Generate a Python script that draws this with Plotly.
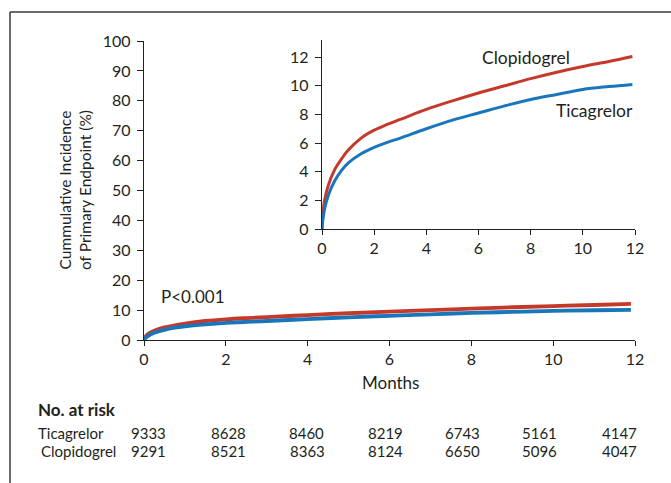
import plotly.graph_objects as go

W, H = 671, 483

months = [0, 0.03, 0.1, 0.25, 0.5, 0.75, 1, 1.5, 2, 2.5, 3, 4, 5, 6, 7, 8, 9, 10, 11, 11.9]
clopidogrel = [0, 1.0, 2.0, 3.1, 4.2, 4.9, 5.5, 6.35, 6.9, 7.3, 7.65, 8.35, 8.95, 9.5, 10.0, 10.5, 10.95, 11.35, 11.7, 12.05]
ticagrelor = [0, 0.6, 1.4, 2.4, 3.4, 4.1, 4.6, 5.25, 5.7, 6.05, 6.35, 7.0, 7.6, 8.1, 8.6, 9.05, 9.4, 9.75, 9.95, 10.1]

main_xticks = [0, 2, 4, 6, 8, 10, 12]
main_yticks = [0, 10, 20, 30, 40, 50, 60, 70, 80, 90, 100]
inset_yticks = [0, 2, 4, 6, 8, 10, 12]

risk_groups = ["Ticagrelor", "Clopidogrel"]
risk_ticagrelor = [9333, 8628, 8460, 8219, 6743, 5161, 4147]
risk_clopidogrel = [9291, 8521, 8363, 8124, 6650, 5096, 4047]

RED = "#c5392b"
BLUE = "#1a76bb"
TXT = "#231f20"
FONT = "Lato"

def px(x):
    return x / W

def py(y):
    return 1 - y / H

fig = go.Figure()

# main plot
fig.add_trace(go.Scatter(x=months, y=clopidogrel, mode="lines", line=dict(color=RED, width=3.8, shape="spline"),
                         xaxis="x", yaxis="y", showlegend=False, hoverinfo="skip"))
fig.add_trace(go.Scatter(x=months, y=ticagrelor, mode="lines", line=dict(color=BLUE, width=3.8, shape="spline"),
                         xaxis="x", yaxis="y", showlegend=False, hoverinfo="skip"))
# inset
fig.add_trace(go.Scatter(x=months, y=clopidogrel, mode="lines", line=dict(color=RED, width=3, shape="spline"),
                         xaxis="x2", yaxis="y2", showlegend=False, hoverinfo="skip"))
fig.add_trace(go.Scatter(x=months, y=ticagrelor, mode="lines", line=dict(color=BLUE, width=3, shape="spline"),
                         xaxis="x2", yaxis="y2", showlegend=False, hoverinfo="skip"))

axcommon = dict(showgrid=False, zeroline=False, showline=True, linecolor=TXT, linewidth=1.3,
                ticks="outside", tickwidth=1.2, tickcolor=TXT, automargin=False,
                tickfont=dict(family=FONT, size=16, color=TXT))
xax = dict(ticklen=5, ticklabelstandoff=0, **axcommon)
yax = dict(ticklen=6, ticklabelstandoff=3, **axcommon)

fig.update_layout(
    template="none",
    width=W, height=H, margin=dict(l=0, r=0, t=0, b=0, pad=0, autoexpand=False), autosize=False,
    paper_bgcolor="white", plot_bgcolor="rgba(0,0,0,0)",
    font=dict(family=FONT, color=TXT),
    xaxis=dict(domain=[px(144), px(635)], range=[0, 12], tickvals=main_xticks, anchor="y", **xax),
    yaxis=dict(domain=[py(340), py(41)], range=[0, 100], tickvals=main_yticks, anchor="x", **yax),
    xaxis2=dict(domain=[px(322), px(635)], range=[0, 12], tickvals=main_xticks, anchor="y2", **xax),
    yaxis2=dict(domain=[py(229), py(40)], range=[0, 13.2], tickvals=inset_yticks, anchor="x2", **yax),
)

ann = []
ann.append(dict(text="Cummulative Incidence<br>of Primary Endpoint (%)", x=px(75), y=py(190), xref="paper", yref="paper",
                textangle=-90, showarrow=False, font=dict(size=15.5, family=FONT, color=TXT), xanchor="center", yanchor="middle"))
ann.append(dict(text="Months", x=px(390), y=py(382), xref="paper", yref="paper", showarrow=False,
                font=dict(size=17, family=FONT, color=TXT), xanchor="center", yanchor="middle"))
ann.append(dict(text="P<0.001", x=px(159), y=py(296), xref="paper", yref="paper", showarrow=False,
                font=dict(size=17, family=FONT, color=TXT), xanchor="left", yanchor="middle"))
ann.append(dict(text="Clopidogrel", x=px(526), y=py(57), xref="paper", yref="paper", showarrow=False,
                font=dict(size=17.5, family=FONT, color=TXT), xanchor="center", yanchor="middle"))
ann.append(dict(text="Ticagrelor", x=px(594), y=py(110), xref="paper", yref="paper", showarrow=False,
                font=dict(size=17.5, family=FONT, color=TXT), xanchor="center", yanchor="middle"))
ann.append(dict(text="<b>No. at risk</b>", x=px(36), y=py(409), xref="paper", yref="paper", showarrow=False,
                font=dict(size=17, family=FONT, color=TXT), xanchor="left", yanchor="middle"))
ann.append(dict(text=risk_groups[0], x=px(36), y=py(433), xref="paper", yref="paper", showarrow=False,
                font=dict(size=15, family=FONT, color=TXT), xanchor="left", yanchor="middle"))
ann.append(dict(text=risk_groups[1], x=px(39), y=py(451), xref="paper", yref="paper", showarrow=False,
                font=dict(size=15, family=FONT, color=TXT), xanchor="left", yanchor="middle"))
col_x = [148, 228, 306, 385, 462, 539, 619]
for i, cx in enumerate(col_x):
    ann.append(dict(text=str(risk_ticagrelor[i]), x=px(cx), y=py(433), xref="paper", yref="paper", showarrow=False,
                    font=dict(size=15, family=FONT, color=TXT), xanchor="center", yanchor="middle"))
    ann.append(dict(text=str(risk_clopidogrel[i]), x=px(cx + (1 if i == 2 else 0)), y=py(451), xref="paper", yref="paper",
                    showarrow=False, font=dict(size=15, family=FONT, color=TXT), xanchor="center", yanchor="middle"))
fig.update_layout(annotations=ann)

# frame lines (top and left)
fig.add_shape(type="line", xref="paper", yref="paper", x0=px(10), x1=1, y0=py(12), y1=py(12),
              line=dict(color="#3a3a3a", width=1.5))
fig.add_shape(type="line", xref="paper", yref="paper", x0=px(10), x1=px(10), y0=py(12), y1=0,
              line=dict(color="#3a3a3a", width=1.5))

fig.write_html("out.html", config={"displayModeBar": False},
               post_script="document.body.style.margin='0px';document.documentElement.style.overflow='hidden';document.body.style.overflow='hidden';")
